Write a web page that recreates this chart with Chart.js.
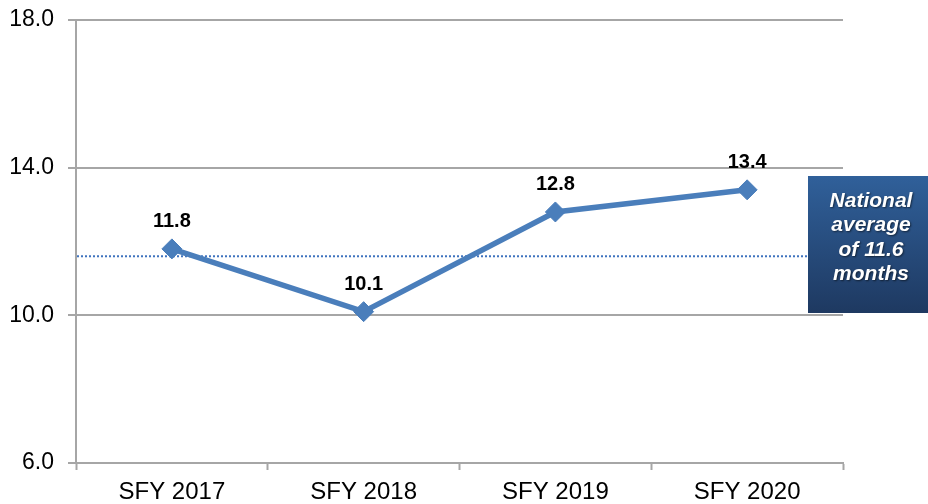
<!DOCTYPE html>
<html>
<head>
<meta charset="utf-8">
<script src="https://cdn.jsdelivr.net/npm/chart.js@4/dist/chart.umd.min.js"></script>
<style>
  html, body { margin: 0; padding: 0; background: #ffffff; }
  #wrap { position: relative; width: 928px; height: 504px; }
</style>
</head>
<body>
<div id="wrap"><canvas id="chart"></canvas></div>
<script>
// Average months, by state fiscal year
const categories = ['SFY 2017', 'SFY 2018', 'SFY 2019', 'SFY 2020'];
const monthsValues = [11.8, 10.1, 12.8, 13.4];
const nationalAverage = 11.6;
const yTicks = [6, 10, 14, 18];
const averageLabelLines = ['National', 'average', 'of 11.6', 'months'];

const FONT = "Arial, 'Liberation Sans', sans-serif";
const GRID = '#A6A6A6';

// Bold value labels above each point
const valueLabels = {
  id: 'valueLabels',
  afterDatasetsDraw(chart) {
    const ctx = chart.ctx;
    const meta = chart.getDatasetMeta(0);
    ctx.save();
    ctx.font = 'bold 20px ' + FONT;
    ctx.fillStyle = '#000000';
    ctx.textAlign = 'center';
    ctx.textBaseline = 'middle';
    meta.data.forEach((pt, i) => {
      ctx.fillText(monthsValues[i].toFixed(1), pt.x, pt.y - 27);
    });
    ctx.restore();
  }
};

// Dotted national-average reference line with its callout box
const averageCallout = {
  id: 'averageCallout',
  beforeDatasetsDraw(chart) {
    const ctx = chart.ctx;
    const area = chart.chartArea;
    const y = chart.scales.y.getPixelForValue(nationalAverage);
    const boxLeft = 808, boxTop = 176, boxRight = chart.width, boxBottom = 313;

    ctx.save();
    ctx.strokeStyle = '#3F73BE';
    ctx.lineWidth = 2;
    ctx.setLineDash([2, 2]);
    ctx.beginPath();
    ctx.moveTo(area.left + 1, y);
    ctx.lineTo(boxLeft, y);
    ctx.stroke();
    ctx.setLineDash([]);

    const grad = ctx.createLinearGradient(0, boxTop, 0, boxBottom);
    grad.addColorStop(0, '#30609A');
    grad.addColorStop(1, '#1E3961');
    ctx.fillStyle = grad;
    ctx.fillRect(boxLeft, boxTop, boxRight - boxLeft, boxBottom - boxTop);

    ctx.font = 'italic bold 21px ' + FONT;
    ctx.textAlign = 'center';
    ctx.textBaseline = 'middle';
    ctx.shadowColor = 'rgba(0,0,0,0.55)';
    ctx.shadowOffsetX = 1;
    ctx.shadowOffsetY = 1;
    ctx.shadowBlur = 2;
    ctx.fillStyle = '#FFFFFF';
    const cx = (boxLeft + boxRight) / 2 + 3;
    averageLabelLines.forEach((line, i) => {
      ctx.fillText(line, cx, 201 + i * 24.5);
    });
    ctx.restore();
  }
};

new Chart(document.getElementById('chart'), {
  type: 'line',
  data: {
    labels: categories,
    datasets: [{
      data: monthsValues,
      borderColor: '#4A7EBB',
      backgroundColor: '#4A7EBB',
      borderWidth: 5.5,
      pointStyle: 'rectRot',
      pointRadius: 10,
      pointHoverRadius: 10,
      pointBackgroundColor: '#4A7EBB',
      pointBorderColor: '#4A7EBB',
      pointBorderWidth: 1,
      tension: 0,
      fill: false
    }]
  },
  options: {
    responsive: true,
    maintainAspectRatio: false,
    animation: false,
    events: [],
    layout: { padding: { top: 20, right: 85, left: 0, bottom: 0 } },
    plugins: {
      legend: { display: false },
      tooltip: { enabled: false }
    },
    scales: {
      x: {
        offset: true,
        grid: {
          offset: true,
          drawOnChartArea: false,
          drawTicks: true,
          tickLength: 7,
          tickWidth: 2,
          tickColor: GRID
        },
        border: { display: true, color: GRID, width: 2 },
        ticks: {
          color: '#000000',
          font: { family: FONT, size: 24 },
          padding: 8,
          maxRotation: 0
        },
        afterFit(scale) {
          scale.height = 41;
          scale.paddingLeft = 0;
          scale.paddingRight = 0;
        }
      },
      y: {
        min: 6,
        max: 18,
        afterBuildTicks(scale) {
          scale.ticks = yTicks.map(v => ({ value: v }));
        },
        grid: {
          color: GRID,
          lineWidth: 2,
          drawTicks: true,
          tickLength: 8,
          tickWidth: 2,
          tickColor: GRID
        },
        border: { display: true, color: GRID, width: 2 },
        ticks: {
          color: '#000000',
          font: { family: FONT, size: 23 },
          padding: 14,
          callback: v => Number(v).toFixed(1)
        },
        afterFit(scale) {
          scale.width = 76;
          scale.paddingTop = 0;
          scale.paddingBottom = 0;
        }
      }
    }
  },
  plugins: [averageCallout, valueLabels]
});
</script>
</body>
</html>
